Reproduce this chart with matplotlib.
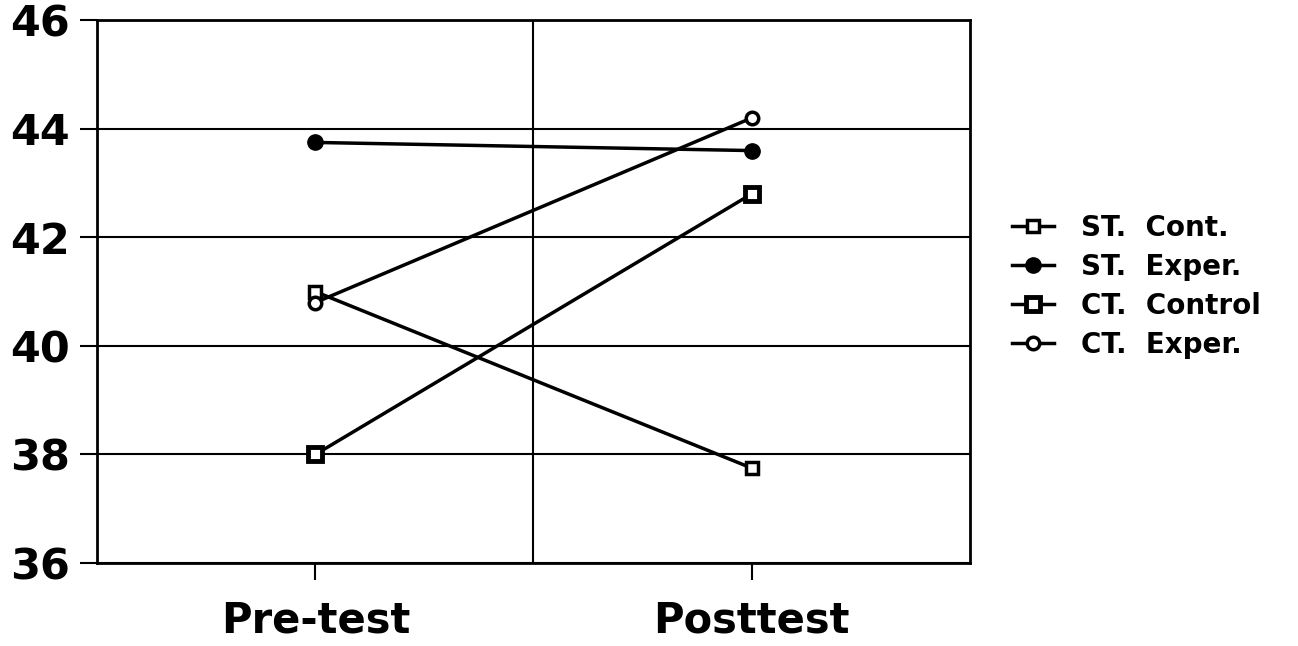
import matplotlib.pyplot as plt

# data
phases = ['Pre-test', 'Posttest']
st_cont = [41.0, 37.75]
st_exper = [43.75, 43.6]
ct_control = [38.0, 42.8]
ct_exper = [40.8, 44.2]

plt.rcParams['font.family'] = ['DejaVu Sans']
plt.rcParams['font.weight'] = 'bold'

fig = plt.figure(figsize=(12.98, 6.46), dpi=100)
ax = fig.add_axes([0.075, 0.1285, 0.672, 0.84])

x = list(range(len(phases)))
ax.plot(x, st_cont, 'k-', lw=2.5, marker='s', ms=9, mfc='white', mec='black', mew=2.5, label='ST.  Cont.')
ax.plot(x, st_exper, 'k-', lw=2.5, marker='o', ms=11, mfc='black', mec='black', label='ST.  Exper.')
ax.plot(x, ct_control, 'k-', lw=2.5, marker='s', ms=10, mfc='white', mec='black', mew=3.5, label='CT.  Control')
ax.plot(x, ct_exper, 'k-', lw=2.5, marker='o', ms=9, mfc='white', mec='black', mew=2.5, label='CT.  Exper.')

ax.set_xlim(-0.5, 1.5)
ax.set_ylim(36, 46)
ax.set_yticks([36, 38, 40, 42, 44, 46])
ax.set_xticks(x)
ax.set_xticklabels(phases)
ax.grid(axis='y', color='black', lw=1.5)
ax.axvline(0.5, color='black', lw=1.5)
for s in ax.spines.values():
    s.set_linewidth(2)
ax.tick_params(axis='y', length=12, width=1.5, labelsize=31, pad=8)
ax.tick_params(axis='x', length=12, width=1.5, labelsize=30, pad=14)
for t in ax.get_xticklabels() + ax.get_yticklabels():
    t.set_fontweight('bold')

ax.legend(loc='center left', bbox_to_anchor=(1.02, 0.51), frameon=False,
          handlelength=1.5, labelspacing=0.4, handletextpad=1.0,
          prop={'weight': 'bold', 'size': 20})

fig.savefig('out.png', dpi=100)
